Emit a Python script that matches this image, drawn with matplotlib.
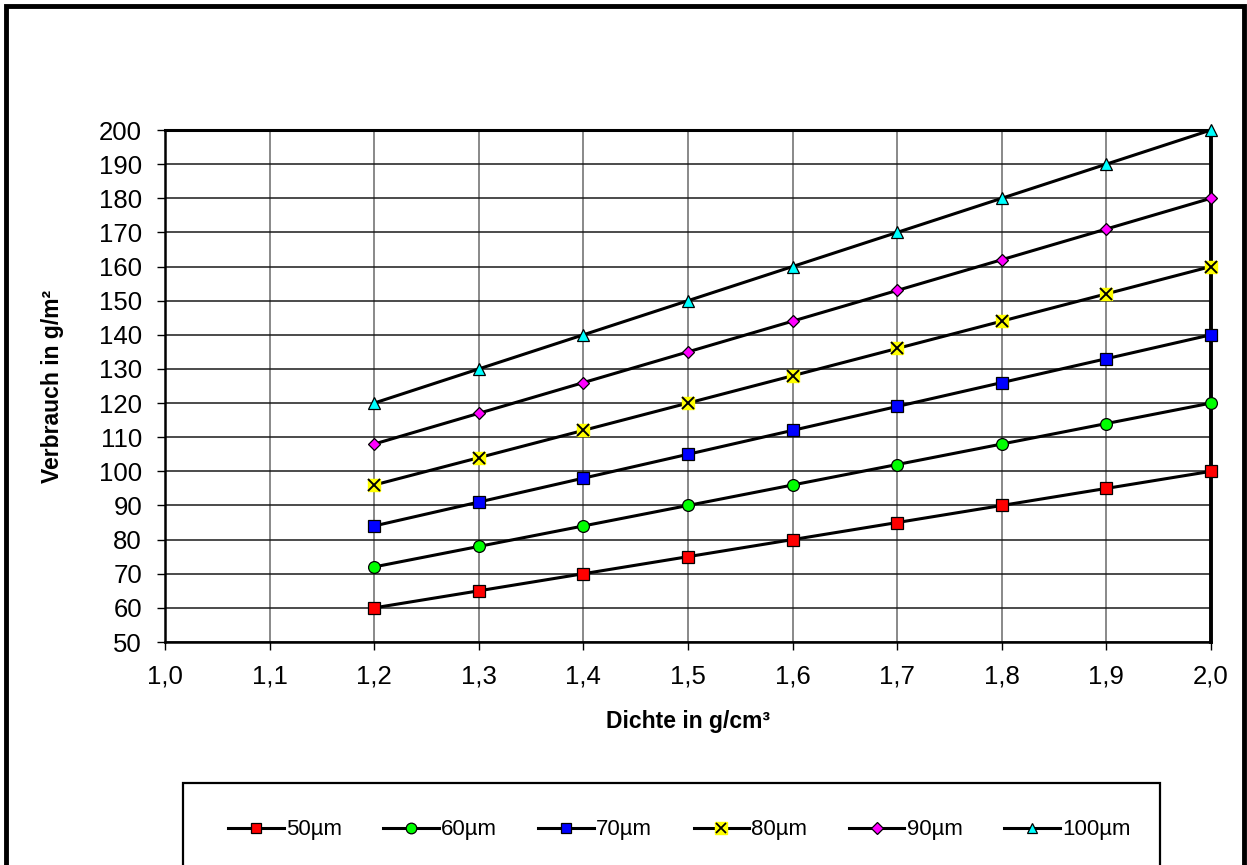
import matplotlib
matplotlib.use("Agg")
import matplotlib.pyplot as plt
from matplotlib.patches import Rectangle
from matplotlib.lines import Line2D
from matplotlib.legend_handler import HandlerTuple

plt.rcParams['font.family'] = ['Liberation Sans', 'DejaVu Sans']

x = [1.2, 1.3, 1.4, 1.5, 1.6, 1.7, 1.8, 1.9, 2.0]
s50 = [60, 65, 70, 75, 80, 85, 90, 95, 100]
s60 = [72, 78, 84, 90, 96, 102, 108, 114, 120]
s70 = [84, 91, 98, 105, 112, 119, 126, 133, 140]
s80 = [96, 104, 112, 120, 128, 136, 144, 152, 160]
s90 = [108, 117, 126, 135, 144, 153, 162, 171, 180]
s100 = [120, 130, 140, 150, 160, 170, 180, 190, 200]
labels = ['50µm', '60µm', '70µm', '80µm', '90µm', '100µm']
xticks = [1.0, 1.1, 1.2, 1.3, 1.4, 1.5, 1.6, 1.7, 1.8, 1.9, 2.0]
xticklabels = ['1,0', '1,1', '1,2', '1,3', '1,4', '1,5', '1,6', '1,7', '1,8', '1,9', '2,0']
yticks = list(range(50, 201, 10))

W, H = 1247, 865
fig = plt.figure(figsize=(W / 100, H / 100), dpi=100)
ax = fig.add_axes([165 / W, (H - 642) / H, (1211 - 165) / W, (642 - 130) / H])

series = [s50, s60, s70, s80, s90, s100]
styles = [
    dict(marker='s', mfc='#ff0000', ms=8.5),
    dict(marker='o', mfc='#00ff00', ms=8.5),
    dict(marker='s', mfc='#0000ff', ms=8.5),
    None,
    dict(marker='D', mfc='#ff00ff', ms=6.5),
    dict(marker='^', mfc='#00ffff', ms=8.5),
]
handles = []
for ys, st, lab in zip(series, styles, labels):
    if st is None:
        ax.plot(x, ys, color='black', lw=2.2, zorder=3, clip_on=False)
        ax.plot(x, ys, ls='none', marker='s', ms=9, mfc='#ffff00', mec='#ffff00', zorder=4, clip_on=False)
        ax.plot(x, ys, ls='none', marker='x', ms=8, mec='black', mew=1.4, zorder=5, clip_on=False)
        h = (Line2D([], [], color='black', lw=2.2),
             Line2D([], [], ls='none', marker='s', ms=8, mfc='#ffff00', mec='#ffff00'),
             Line2D([], [], ls='none', marker='x', ms=7, mec='black', mew=1.3))
    else:
        ax.plot(x, ys, color='black', lw=2.2, mec='black', mew=0.9, zorder=3, clip_on=False, **st)
        lst = dict(st)
        lst['ms'] = st['ms'] * 0.9
        h = Line2D([], [], color='black', lw=2.2, mec='black', mew=0.9, **lst)
    handles.append(h)

ax.set_xlim(1.0, 2.0)
ax.set_ylim(50, 200)
ax.set_xticks(xticks)
ax.set_xticklabels(xticklabels)
ax.set_yticks(yticks)
ax.tick_params(axis='both', labelsize=18.5, direction='out', length=6, width=1, colors='black')
ax.tick_params(axis='x', pad=10)
ax.tick_params(axis='y', pad=10.5)
ax.xaxis.grid(True, color='#808080', lw=1.3)
ax.yaxis.grid(True, color='#1a1a1a', lw=1.1)
ax.set_axisbelow(True)
for sp in ax.spines.values():
    sp.set_linewidth(1.8)
ax.spines['right'].set_linewidth(2.8)
ax.spines['top'].set_linewidth(2.2)

ax.set_xlabel('Dichte in g/cm³', fontsize=16.5, fontweight='bold', labelpad=16)
ax.set_ylabel('Verbrauch in g/m²', fontsize=16.5, fontweight='bold', labelpad=25)

# outer frame
fig.patches.append(Rectangle((6 / W, -0.05), (1244 - 6) / W, 1.05 - 6 / H,
                             transform=fig.transFigure, fill=False, lw=3.5,
                             edgecolor='black', zorder=10))
# legend box
fig.patches.append(Rectangle((183 / W, -0.05), (1160 - 183) / W, 0.05 + (H - 783) / H,
                             transform=fig.transFigure, fill=False, lw=1.6,
                             edgecolor='black', zorder=10))

for i, (h, lab) in enumerate(zip(handles, labels)):
    fig.legend([h], [lab], loc='center left',
               bbox_to_anchor=((228 + 155.2 * i) / W, (H - 830) / H),
               frameon=False, fontsize=16, handlelength=2.5, handletextpad=0.1,
               borderpad=0, borderaxespad=0,
               handler_map={tuple: HandlerTuple(ndivide=1, pad=0)})

fig.savefig('out.png', dpi=100)
